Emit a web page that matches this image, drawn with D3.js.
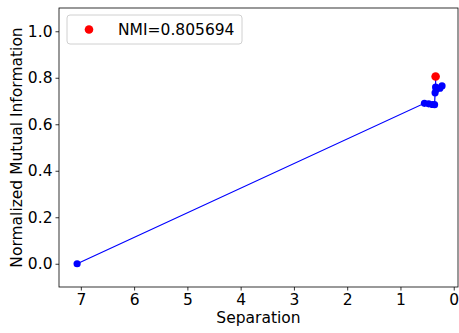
<!DOCTYPE html>
<html>
<head>
<meta charset="utf-8">
<script src="https://cdn.jsdelivr.net/npm/d3@7"></script>
<style>
  body { margin: 0; background: #fff; }
  text { font-family: "DejaVu Sans", sans-serif; }
</style>
</head>
<body>
<div id="chart"></div>
<script>
// separation vs NMI
const separation = [7.07, 0.55, 0.47, 0.40, 0.36, 0.35, 0.33, 0.26, 0.22, 0.34];
const nmi = [0.0, 0.69, 0.688, 0.685, 0.684, 0.735, 0.75, 0.755, 0.765, 0.76];
const best = {sep: 0.34, nmi: 0.805694};
const xTicks = [7, 6, 5, 4, 3, 2, 1, 0];
const yTicks = [0.0, 0.2, 0.4, 0.6, 0.8, 1.0];

const width = 459, height = 333,
    margin = {top: 8, right: 1, bottom: 46, left: 59};

const svg = d3.select("#chart").append("svg")
    .attr("width", width)
    .attr("height", height);

const x = d3.scaleLinear()
    .domain([7.41, -0.08])
    .range([margin.left, width - margin.right]);

const y = d3.scaleLinear()
    .domain([-0.1, 1.1])
    .range([height - margin.bottom, margin.top]);

const pts = separation.map((s, i) => [s, nmi[i]]);
pts.push([best.sep, best.nmi]);

// line
svg.append("path")
    .datum(pts)
    .attr("fill", "none")
    .attr("stroke", "#0000ff")
    .attr("stroke-width", 1.2)
    .attr("d", d3.line().x(d => x(d[0])).y(d => y(d[1])));

svg.append("g").selectAll("circle")
    .data(pts.slice(0, -1))
    .join("circle")
    .attr("cx", d => x(d[0]))
    .attr("cy", d => y(d[1]))
    .attr("r", 3.6)
    .attr("fill", "#0000ff");

svg.append("circle")
    .attr("cx", x(best.sep))
    .attr("cy", y(best.nmi))
    .attr("r", 4.3)
    .attr("fill", "#ff0000");

// axes
const xAxis = d3.axisBottom(x).tickValues(xTicks).tickSize(3.5).tickPadding(3).tickFormat(d3.format("d"));
const yAxis = d3.axisLeft(y).tickValues(yTicks).tickSize(3.5).tickPadding(3).tickFormat(d3.format(".1f"));

const gx = svg.append("g")
    .attr("transform", "translate(0," + (height - margin.bottom) + ")")
    .call(xAxis);
const gy = svg.append("g")
    .attr("transform", "translate(" + margin.left + ",0)")
    .call(yAxis);

[gx, gy].forEach(g => {
    g.select(".domain").remove();
    g.selectAll("text").attr("font-size", 15.5).attr("fill", "#000")
        .style("font-family", "DejaVu Sans");
    g.selectAll("line").attr("stroke", "#000").attr("stroke-width", 0.8);
});

// frame
svg.append("rect")
    .attr("x", margin.left)
    .attr("y", margin.top)
    .attr("width", width - margin.left - margin.right)
    .attr("height", height - margin.top - margin.bottom)
    .attr("fill", "none")
    .attr("stroke", "#000")
    .attr("stroke-width", 0.8);

// labels
svg.append("text")
    .attr("x", (margin.left + width - margin.right) / 2)
    .attr("y", 323)
    .attr("text-anchor", "middle")
    .attr("font-size", 15.5)
    .text("Separation");

svg.append("text")
    .attr("transform", "translate(22," + ((margin.top + height - margin.bottom) / 2) + ") rotate(-90)")
    .attr("text-anchor", "middle")
    .attr("font-size", 15.5)
    .text("Normalized Mutual Information");

// legend
const leg = svg.append("g");
leg.append("rect")
    .attr("x", 67).attr("y", 15)
    .attr("width", 175).attr("height", 29)
    .attr("rx", 3)
    .attr("fill", "#fff")
    .attr("fill-opacity", 0.8)
    .attr("stroke", "#d0d0d0")
    .attr("stroke-width", 1);
leg.append("circle")
    .attr("cx", 89).attr("cy", 29.5)
    .attr("r", 4.3)
    .attr("fill", "#ff0000");
leg.append("text")
    .attr("x", 118).attr("y", 35)
    .attr("font-size", 15.5)
    .text("NMI=" + best.nmi);
</script>
</body>
</html>
